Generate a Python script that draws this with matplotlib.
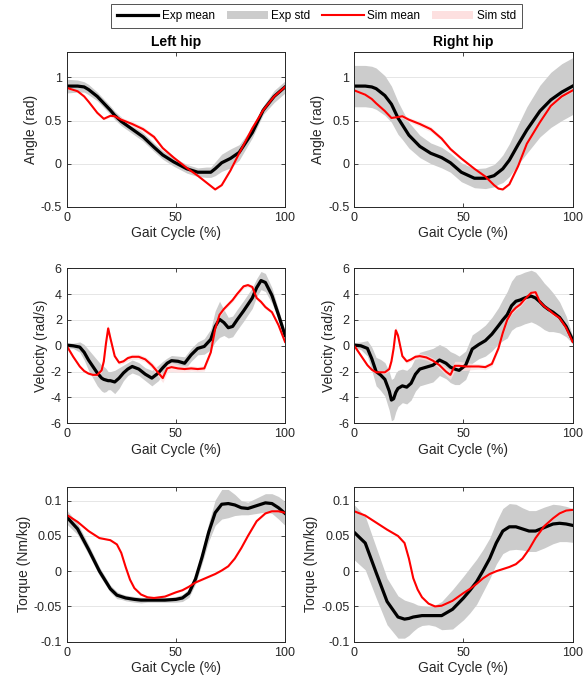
import numpy as np
import matplotlib
matplotlib.use("Agg")
from matplotlib import pyplot as plt
from matplotlib.lines import Line2D
from matplotlib.patches import Patch

plt.rcParams['font.family'] = ['Liberation Sans', 'DejaVu Sans']
plt.rcParams['axes.unicode_minus'] = False

# gait cycle (%) sample points
x_angle = [0, 5, 8, 10, 14, 17, 20, 22, 25, 30, 35, 40, 44, 49, 55, 60, 64, 66, 68, 71, 75, 79, 85, 90, 95, 100]
x_vel = [0, 3, 6, 8, 10, 12, 14, 16, 17, 18, 19, 20, 22, 24, 26, 28, 30, 33, 36, 39, 42, 44, 46, 48, 51,
         54, 57, 60, 63, 66, 68, 70, 72, 74, 76, 78, 81, 83, 85, 87, 89, 91, 94, 97, 100]
x_torque = [0, 5, 10, 15, 20, 23, 25, 27, 29, 31, 34, 37, 40, 45, 50, 53, 56, 59, 62, 65, 68, 71, 74, 77,
            80, 83, 87, 91, 94, 97, 100]

# left hip angle (rad)
l_ang_exp = [0.90, 0.90, 0.89, 0.86, 0.78, 0.70, 0.62, 0.56, 0.49, 0.40, 0.31, 0.19, 0.10, 0.02, -0.06, -0.10,
             -0.10, -0.10, -0.06, 0.01, 0.06, 0.13, 0.36, 0.62, 0.78, 0.89]
l_ang_exp_sd = [0.08, 0.07, 0.06, 0.06, 0.05, 0.05, 0.05, 0.05, 0.05, 0.05, 0.05, 0.05, 0.05, 0.05, 0.05, 0.05,
                0.06, 0.06, 0.08, 0.10, 0.11, 0.09, 0.06, 0.05, 0.07, 0.07]
l_ang_sim = [0.88, 0.84, 0.78, 0.72, 0.59, 0.52, 0.555, 0.55, 0.51, 0.46, 0.40, 0.31, 0.18, 0.07, -0.05, -0.14,
             -0.22, -0.26, -0.30, -0.25, -0.08, 0.12, 0.41, 0.62, 0.78, 0.89]
l_ang_sim_sd = [0.01, 0.01, 0.01, 0.01, 0.01, 0.01, 0.015, 0.02, 0.025, 0.03, 0.03, 0.025, 0.02, 0.015, 0.01, 0.01,
                0.01, 0.01, 0.01, 0.01, 0.01, 0.01, 0.01, 0.01, 0.01, 0.01]

# right hip angle (rad)
r_ang_exp = [0.90, 0.90, 0.89, 0.87, 0.79, 0.69, 0.53, 0.45, 0.33, 0.20, 0.12, 0.07, 0.01, -0.10, -0.17, -0.17,
             -0.14, -0.10, -0.06, 0.04, 0.22, 0.39, 0.61, 0.74, 0.83, 0.90]
r_ang_exp_sd = [0.24, 0.24, 0.24, 0.24, 0.23, 0.21, 0.19, 0.17, 0.15, 0.13, 0.12, 0.12, 0.11, 0.11, 0.11, 0.12,
                0.13, 0.14, 0.16, 0.19, 0.23, 0.27, 0.30, 0.32, 0.33, 0.33]
r_ang_sim = [0.85, 0.80, 0.75, 0.70, 0.61, 0.53, 0.54, 0.55, 0.51, 0.46, 0.40, 0.29, 0.17, 0.06, -0.06, -0.15,
             -0.25, -0.29, -0.30, -0.24, -0.03, 0.23, 0.48, 0.67, 0.78, 0.85]
r_ang_sim_sd = l_ang_sim_sd

# left hip velocity (rad/s)
l_vel_exp = [0.05, 0.0, -0.1, -0.5, -1.1, -1.6, -2.1, -2.5, -2.6, -2.65, -2.7, -2.7, -2.8, -2.5, -2.1, -1.8, -1.6,
             -1.8, -2.2, -2.5, -2.1, -1.7, -1.35, -1.15, -1.2, -1.35, -0.7, -0.2, -0.05, 0.5, 1.5, 2.05, 1.8, 1.4,
             1.5, 2.0, 2.7, 3.2, 3.7, 4.5, 5.05, 4.9, 3.9, 2.4, 0.8]
l_vel_exp_sd = [0.2, 0.2, 0.4, 0.6, 0.8, 0.9, 1.0, 1.0, 1.0, 0.9, 0.7, 0.7, 0.9, 0.8, 0.6, 0.5, 0.5, 0.5, 0.5, 0.6,
                0.6, 0.5, 0.4, 0.4, 0.4, 0.5, 0.5, 0.5, 0.6, 0.8, 1.2, 1.4, 1.0, 0.8, 0.8, 0.8, 0.8, 0.8, 0.8,
                0.7, 0.7, 0.7, 0.6, 0.4, 0.3]
l_vel_sim = [0.0, -0.85, -1.6, -1.95, -2.15, -2.25, -2.25, -1.9, -1.2, 0.2, 1.35, 0.6, -0.8, -1.3, -1.2, -0.95,
             -0.85, -0.85, -1.05, -1.5, -2.1, -2.5, -1.75, -1.65, -1.75, -1.8, -1.75, -1.8, -1.75, -0.5, 1.3, 2.4,
             2.85, 3.2, 3.55, 4.0, 4.6, 4.7, 4.55, 3.7, 3.4, 3.0, 2.6, 1.6, 0.3]
l_vel_sim_sd = [0.05, 0.1, 0.1, 0.1, 0.1, 0.1, 0.1, 0.15, 0.2, 0.3, 0.3, 0.2, 0.15, 0.15, 0.15, 0.2, 0.2, 0.2,
                0.2, 0.25, 0.3, 0.35, 0.35, 0.35, 0.3, 0.25, 0.2, 0.2, 0.2, 0.15, 0.15, 0.15, 0.15, 0.15, 0.15,
                0.15, 0.15, 0.15, 0.15, 0.15, 0.15, 0.15, 0.1, 0.1, 0.05]

# right hip velocity (rad/s)
r_vel_exp = [0.05, 0.0, -0.2, -1.0, -2.0, -2.25, -2.6, -3.5, -4.2, -4.1, -3.6, -3.3, -3.1, -3.2, -2.9, -2.2,
             -1.8, -1.65, -1.5, -1.1, -1.35, -1.65, -1.8, -1.9, -1.5, -0.25, 0.1, 0.4, 0.9, 1.55, 2.0, 2.4, 3.1,
             3.45, 3.55, 3.7, 3.85, 3.7, 3.4, 3.05, 2.8, 2.6, 2.2, 1.5, 0.45]
r_vel_exp_sd = [0.2, 0.3, 0.6, 0.9, 1.1, 1.2, 1.3, 1.5, 1.6, 1.6, 1.5, 1.4, 1.3, 1.3, 1.3, 1.3, 1.3, 1.3, 1.3,
                1.2, 1.2, 1.2, 1.2, 1.1, 1.1, 1.1, 1.1, 1.2, 1.3, 1.4, 1.6, 1.8, 1.9, 2.0, 2.0, 2.0, 2.0, 2.0,
                1.9, 1.8, 1.7, 1.5, 1.2, 0.8, 0.3]
r_vel_sim = [0.0, -0.75, -1.5, -1.85, -2.05, -2.05, -2.05, -1.8, -1.2, -0.2, 1.2, 0.8, -0.8, -1.2, -1.05, -0.85,
             -0.8, -0.9, -1.15, -1.5, -2.0, -2.25, -1.55, -1.55, -1.6, -1.6, -1.6, -1.65, -1.4, -0.2, 1.0, 2.0,
             2.6, 2.95, 3.2, 3.6, 4.1, 4.15, 3.4, 3.05, 2.8, 2.5, 2.15, 1.4, 0.3]
r_vel_sim_sd = l_vel_sim_sd

# left hip torque (Nm/kg)
l_tq_exp = [0.077, 0.06, 0.031, 0.0, -0.025, -0.034, -0.036, -0.038, -0.039, -0.04, -0.041, -0.041, -0.041,
            -0.041, -0.04, -0.038, -0.031, -0.011, 0.02, 0.055, 0.083, 0.095, 0.096, 0.094, 0.09, 0.089, 0.093,
            0.097, 0.096, 0.09, 0.082]
l_tq_exp_sd = [0.01, 0.008, 0.007, 0.006, 0.005, 0.005, 0.004, 0.004, 0.004, 0.004, 0.004, 0.003, 0.003, 0.003,
               0.004, 0.005, 0.006, 0.007, 0.009, 0.013, 0.018, 0.021, 0.02, 0.015, 0.01, 0.009, 0.011, 0.013,
               0.014, 0.016, 0.017]
l_tq_sim = [0.08, 0.07, 0.057, 0.047, 0.044, 0.038, 0.026, 0.006, -0.012, -0.024, -0.033, -0.037, -0.038,
            -0.036, -0.03, -0.027, -0.022, -0.016, -0.012, -0.008, -0.004, 0.001, 0.007, 0.018, 0.033, 0.05,
            0.071, 0.082, 0.085, 0.085, 0.083]
l_tq_sim_sd = [0.001] * len(x_torque)

# right hip torque (Nm/kg)
r_tq_exp = [0.055, 0.04, -0.002, -0.043, -0.065, -0.068, -0.067, -0.065, -0.064, -0.063, -0.063, -0.063, -0.063,
            -0.054, -0.038, -0.027, -0.015, 0.001, 0.018, 0.04, 0.057, 0.063, 0.063, 0.06, 0.057, 0.057, 0.062,
            0.067, 0.068, 0.067, 0.065]
r_tq_exp_sd = [0.039, 0.038, 0.036, 0.033, 0.03, 0.027, 0.024, 0.02, 0.016, 0.014, 0.013, 0.015, 0.02, 0.028,
               0.031, 0.032, 0.032, 0.03, 0.029, 0.03, 0.032, 0.033, 0.032, 0.03, 0.029, 0.029, 0.029, 0.028,
               0.026, 0.025, 0.024]
r_tq_sim = [0.085, 0.079, 0.069, 0.059, 0.05, 0.04, 0.018, -0.01, -0.026, -0.037, -0.046, -0.05, -0.049, -0.042,
            -0.031, -0.025, -0.018, -0.01, -0.004, 0.0, 0.003, 0.006, 0.01, 0.018, 0.031, 0.047, 0.064, 0.075,
            0.082, 0.086, 0.087]
r_tq_sim_sd = [0.001] * len(x_torque)

titles = ['Left hip', 'Right hip']
ylabels = ['Angle (rad)', 'Velocity (rad/s)', 'Torque (Nm/kg)']
ylims = [(-0.5, 1.3), (-6, 6), (-0.1, 0.12)]
yticks = [[-0.5, 0, 0.5, 1], [-6, -4, -2, 0, 2, 4, 6], [-0.1, -0.05, 0, 0.05, 0.1]]
yticklabels = [['-0.5', '0', '0.5', '1'], ['-6', '-4', '-2', '0', '2', '4', '6'],
               ['-0.1', '-0.05', '0', '0.05', '0.1']]

grey = '#cccccc'
pink = '#fde0e0'
axcol = '#262626'

fig = plt.figure(figsize=(5.87, 6.83), dpi=100)

# axes positions (fig fraction)
lefts = [0.1136, 0.6036]
bottoms = [0.6974, 0.3802, 0.0605]
w, h = 0.372, 0.227

panels = [
    [(x_angle, l_ang_exp, l_ang_exp_sd, l_ang_sim, l_ang_sim_sd),
     (x_angle, r_ang_exp, r_ang_exp_sd, r_ang_sim, r_ang_sim_sd)],
    [(x_vel, l_vel_exp, l_vel_exp_sd, l_vel_sim, l_vel_sim_sd),
     (x_vel, r_vel_exp, r_vel_exp_sd, r_vel_sim, r_vel_sim_sd)],
    [(x_torque, l_tq_exp, l_tq_exp_sd, l_tq_sim, l_tq_sim_sd),
     (x_torque, r_tq_exp, r_tq_exp_sd, r_tq_sim, r_tq_sim_sd)],
]

for row in range(3):
    for col in range(2):
        x, em, es, sm, ss = [np.array(a, dtype=float) for a in panels[row][col]]
        ax = fig.add_axes([lefts[col], bottoms[row], w, h])
        ax.fill_between(x, em - es, em + es, color=grey, lw=0)
        ax.fill_between(x, sm - ss, sm + ss, color=pink, lw=0, alpha=0.8)
        ax.plot(x, em, color='k', lw=2.3)
        ax.plot(x, sm, color='#ff0000', lw=1.5)
        ax.set_xlim(0, 100)
        ax.set_ylim(*ylims[row])
        ax.set_xticks([0, 50, 100])
        ax.set_yticks(yticks[row])
        ax.set_yticklabels(yticklabels[row])
        ax.yaxis.grid(True, color='#e6e6e6', lw=0.7)
        ax.set_axisbelow(True)
        ax.tick_params(direction='in', length=3, width=0.6, colors=axcol, labelsize=9,
                       top=True, right=True)
        for s in ax.spines.values():
            s.set_color(axcol)
            s.set_linewidth(0.7)
        ax.set_xlabel('Gait Cycle (%)', fontsize=10, color=axcol, labelpad=2)
        ax.set_ylabel(ylabels[row], fontsize=10, color=axcol, labelpad=2)
        if row == 0:
            ax.set_title(titles[col], fontsize=10, fontweight='bold', pad=4)

handles = [Line2D([], [], color='k', lw=2.3), Patch(facecolor=grey, edgecolor='none'),
           Line2D([], [], color='#ff0000', lw=1.5), Patch(facecolor=pink, edgecolor='none')]
labels = ['Exp mean', 'Exp std', 'Sim mean', 'Sim std']
leg = fig.legend(handles, labels, loc='center', bbox_to_anchor=(0.539, 0.9766), ncol=4, fontsize=8.5,
                 frameon=True, fancybox=False, handlelength=3.5, columnspacing=1.0, handletextpad=0.3,
                 borderpad=0.5, borderaxespad=0, edgecolor=axcol)
leg.get_frame().set_linewidth(0.7)

fig.savefig('out.png', dpi=100)
